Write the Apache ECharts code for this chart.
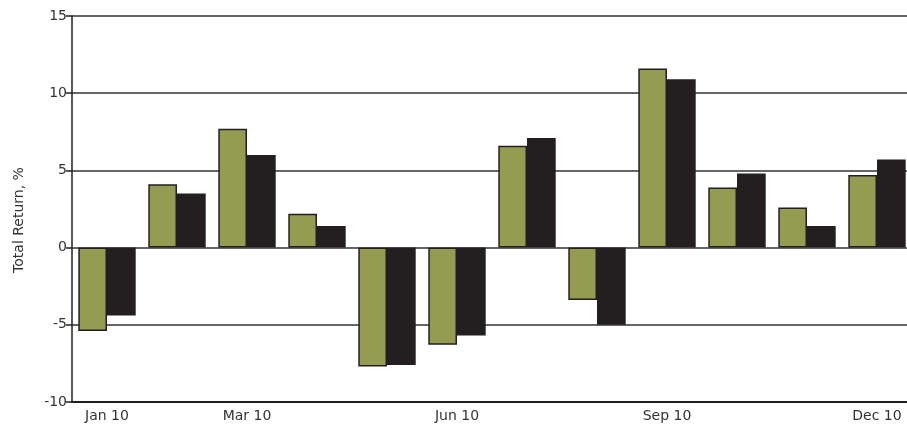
<!DOCTYPE html>
<html>
<head>
<meta charset="utf-8">
<script src="https://cdn.jsdelivr.net/npm/echarts@6/dist/echarts.min.js"></script>
<style>
  html, body { margin: 0; padding: 0; background: #fff; overflow: hidden; }
  #chart { width: 907px; height: 428px; }
</style>
</head>
<body>
<div id="chart"></div>
<script>
// months shown on the axis
const months = ["Jan 10", "Feb 10", "Mar 10", "Apr 10", "May 10", "Jun 10",
  "Jul 10", "Aug 10", "Sep 10", "Oct 10", "Nov 10", "Dec 10"];
// total returns, %
const greenSeries = [-5.4, 4.1, 7.7, 2.2, -7.7, -6.3, 6.6, -3.4, 11.6, 3.9, 2.6, 4.7];
const blackSeries = [-4.4, 3.5, 6.0, 1.4, -7.6, -5.7, 7.1, -5.0, 10.9, 4.8, 1.4, 5.7];
const labelledMonths = [0, 2, 5, 8, 11];

const chart = echarts.init(document.getElementById("chart"));
const font = "'DejaVu Sans', sans-serif";
const showMonth = (i) => labelledMonths.indexOf(i) >= 0;

chart.setOption({
  animation: false,
  // the last month runs a little past the right edge, like the source image
  grid: { left: 72, width: 840, top: 16, bottom: 26, outerBoundsMode: "none" },
  xAxis: {
    type: "category",
    data: months,
    axisLine: { onZero: false, lineStyle: { color: "#231f20", width: 2 } },
    axisTick: { alignWithLabel: true, interval: showMonth, length: 5, lineStyle: { color: "#231f20", width: 1.5 } },
    axisLabel: { interval: showMonth, color: "#333", fontSize: 14, fontFamily: font, margin: 7 }
  },
  yAxis: {
    type: "value",
    min: -10,
    max: 15,
    interval: 5,
    name: "Total Return, %",
    nameLocation: "middle",
    nameGap: 46,
    nameTextStyle: { color: "#333", fontSize: 14, fontFamily: font, padding: [0, 22, 0, 0] },
    axisLine: { show: true, lineStyle: { color: "#231f20", width: 1.5 } },
    axisTick: { show: true, length: 6, lineStyle: { color: "#231f20", width: 1.5 } },
    axisLabel: { color: "#333", fontSize: 14, fontFamily: font, margin: 5 },
    splitLine: { lineStyle: { color: "#333", width: 1.5 } }
  },
  series: [
    {
      type: "bar",
      data: greenSeries,
      barGap: "0%",
      barCategoryGap: "18%",
      itemStyle: { color: "#949c51", borderColor: "#231f20", borderWidth: 1.5 }
    },
    {
      type: "bar",
      data: blackSeries,
      barGap: "0%",
      barCategoryGap: "18%",
      itemStyle: { color: "#231f20", borderColor: "#231f20", borderWidth: 1.5 }
    }
  ]
});
</script>
</body>
</html>
